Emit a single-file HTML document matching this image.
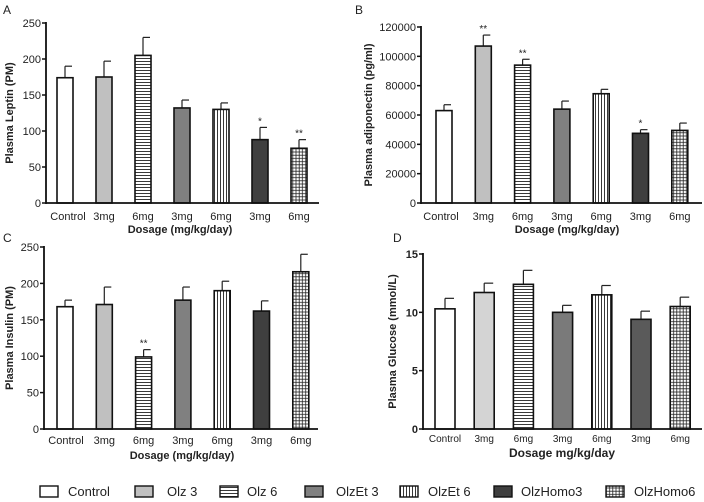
<!DOCTYPE html>
<html><head><meta charset="utf-8"><style>
html,body{margin:0;padding:0;background:#fff;}
svg{display:block;font-family:"Liberation Sans",Arial,sans-serif;}
</style></head><body>
<svg id="fig" width="704" height="502" viewBox="0 0 704 502">
<defs>
<pattern id="ph" width="4" height="3" patternUnits="userSpaceOnUse"><rect width="4" height="3" fill="#fff"/><line x1="0" y1="1.5" x2="4" y2="1.5" stroke="#222" stroke-width="0.9"/></pattern>
<pattern id="pv" width="3" height="4" patternUnits="userSpaceOnUse"><rect width="3" height="4" fill="#fff"/><line x1="1.5" y1="0" x2="1.5" y2="4" stroke="#222" stroke-width="0.9"/></pattern>
<pattern id="pg" width="3.2" height="3.2" patternUnits="userSpaceOnUse"><rect width="3.2" height="3.2" fill="#fff"/><line x1="1.6" y1="0" x2="1.6" y2="3.2" stroke="#222" stroke-width="0.8"/><line x1="0" y1="1.6" x2="3.2" y2="1.6" stroke="#222" stroke-width="0.8"/></pattern>
</defs>
<g id="root"></g>
</svg>
<script>
const groups = ["Control","Olz 3","Olz 6","OlzEt 3","OlzEt 6","OlzHomo3","OlzHomo6"];
const xLabels = ["Control","3mg","6mg","3mg","6mg","3mg","6mg"];
const leptin = [174,175,205,132,130,88,76];
const leptinErr = [16,22,25,11,9,17,12];
const leptinSig = ["","","","","","*","**"];
const adipo = [63000,107000,94000,64000,74500,47500,49500];
const adipoErr = [4000,7500,4000,5500,3000,2500,5000];
const adipoSig = ["","**","**","","","*",""];
const insulin = [168,171,99,177,190,162,216];
const insulinErr = [9,24,10,18,13,14,24];
const insulinSig = ["","","**","","","",""];
const glucose = [10.3,11.7,12.4,10.0,11.5,9.4,10.5];
const glucoseErr = [0.9,0.8,1.2,0.6,0.8,0.7,0.8];
const glucoseSig = ["","","","","","",""];
const ticksA = [0,50,100,150,200,250];
const ticksB = [0,20000,40000,60000,80000,100000,120000];
const ticksC = [0,50,100,150,200,250];
const ticksD = [0,5,10,15];

const NS="http://www.w3.org/2000/svg";
const root=document.getElementById('root');
function mk(tag,attrs,parent,text){const e=document.createElementNS(NS,tag);for(const k in attrs)e.setAttribute(k,attrs[k]);if(text!==undefined)e.textContent=text;(parent||root).appendChild(e);return e;}

function drawPanel(p){
  const g=mk('g',{});
  
  
  const ymax=p.ticks[p.ticks.length-1];
  const y=v=>p.y0-(v/ymax)*(p.y0-p.y1);
  const xc=i=>p.x0c+i*p.step;
  const lt=mk('text',{x:p.lx,y:p.ly,'font-size':12,fill:'#222'},g,p.letter);
  
  
  const fills=p.fills;
  p.vals.forEach((v,i)=>{
    const cx=xc(i), top=y(v), et=y(v+p.err[i]);
    const eb=mk('line',{x1:cx,y1:top,x2:cx,y2:et,stroke:'#222','stroke-width':1.2},g);
    
    
    mk('line',{x1:cx,y1:et,x2:cx+p.bw/2-1,y2:et,stroke:'#222','stroke-width':1.2},g);
    const r=mk('rect',{x:cx-p.bw/2,y:top,width:p.bw,height:p.y0-top,fill:fills[i],stroke:'#111','stroke-width':1.6},g);
    
    
    if(p.sig[i]){const s=mk('text',{x:cx,y:et-3,'font-size':10,'text-anchor':'middle',fill:'#222'},g,p.sig[i]);
      
      }
    const xl=mk('text',{x:cx+(i==0?p.ctrlOff:0),y:p.xly,'font-size':p.fs,'text-anchor':'middle',fill:'#222'},g,xLabels[i]);
    
    
  });
  const ya=mk('line',{x1:p.ax,y1:p.y1-1,x2:p.ax,y2:p.y0+1,stroke:'#111','stroke-width':1.8},g);
  
  
  const xa=mk('line',{x1:p.ax,y1:p.y0,x2:p.xend,y2:p.y0,stroke:'#111','stroke-width':1.8},g);
  
  
  p.ticks.forEach(t=>{
    mk('line',{x1:p.ax-4,y1:y(t),x2:p.ax,y2:y(t),stroke:'#111','stroke-width':1.5},g);
    const tl=mk('text',{x:p.ax-5,y:y(t)+4,'font-size':p.tfs,'text-anchor':'end',fill:'#222','font-weight':p.tfw},g,t);
    
    
  });
  const yt=mk('text',{x:0,y:0,'font-size':p.yfs||p.fs,'font-weight':'bold','text-anchor':'middle',fill:'#222',transform:`translate(${p.ytx},${(p.y0+p.y1)/2}) rotate(-90)`},g,p.ytitle);
  
  
  const xt=mk('text',{x:p.xtx,y:p.xty,'font-size':p.xfs||p.fs,'font-weight':'bold','text-anchor':'middle',fill:'#222'},g,p.xtitle);
  
  
}
const f1=['#fff','#c0c0c0','url(#ph)','#808080','url(#pv)','#3f3f3f','url(#pg)'];
const f2=['#fff','#d4d4d4','url(#ph)','#7a7a7a','url(#pv)','#5a5a5a','url(#pg)'];
drawPanel({name:'panel-a-leptin',letter:'A',lx:3,ly:14,vals:leptin,err:leptinErr,sig:leptinSig,ticks:ticksA,y0:203,y1:23,ax:46,xend:319,x0c:65,step:39,bw:16,fills:f1,xly:220,fs:11,tfs:11,tfw:'normal',ctrlOff:3,ytx:13,ytitle:'Plasma Leptin (PM)',xtx:180,xty:233,xtitle:'Dosage (mg/kg/day)'});
drawPanel({name:'panel-b-adiponectin',letter:'B',lx:355,ly:14,vals:adipo,err:adipoErr,sig:adipoSig,ticks:ticksB,y0:203,y1:27,ax:421,xend:702,x0c:444,step:39.3,bw:16,fills:f1,xly:220,fs:11,tfs:11,tfw:'normal',ctrlOff:-3,ytx:372,ytitle:'Plasma adiponectin (pg/ml)',xtx:567,xty:233,xtitle:'Dosage (mg/kg/day)'});
drawPanel({name:'panel-c-insulin',letter:'C',lx:3,ly:242,vals:insulin,err:insulinErr,sig:insulinSig,ticks:ticksC,y0:429,y1:247,ax:44,xend:318,x0c:65,step:39.3,bw:16,fills:f1,xly:444,fs:11,tfs:11,tfw:'normal',ctrlOff:1,ytx:13,ytitle:'Plasma Insulin (PM)',xtx:182,xty:459,xtitle:'Dosage (mg/kg/day)'});
drawPanel({name:'panel-d-glucose',letter:'D',lx:393,ly:242,vals:glucose,err:glucoseErr,sig:glucoseSig,ticks:ticksD,y0:429,y1:254,ax:423,xend:702,x0c:445,step:39.2,bw:20,fills:f2,xly:442,fs:10,yfs:11,xfs:12,tfs:11,tfw:'bold',ctrlOff:0,ytx:396,ytitle:'Plasma Glucose (mmol/L)',xtx:562,xty:457,xtitle:'Dosage mg/kg/day'});

const legBoxX=[40,135,220,305,400,494,606];
const legTextX=[68,167,247,336,428,521,634];
const lg=mk('g',{});


groups.forEach((gname,i)=>{
  const e=mk('g',{},lg);
  
  
  mk('rect',{x:legBoxX[i],y:486,width:18,height:11,fill:f1[i],stroke:'#111','stroke-width':1.4},e);
  mk('text',{x:legTextX[i],y:496,'font-size':13,fill:'#222'},e,gname);
});
</script>
</body></html>
